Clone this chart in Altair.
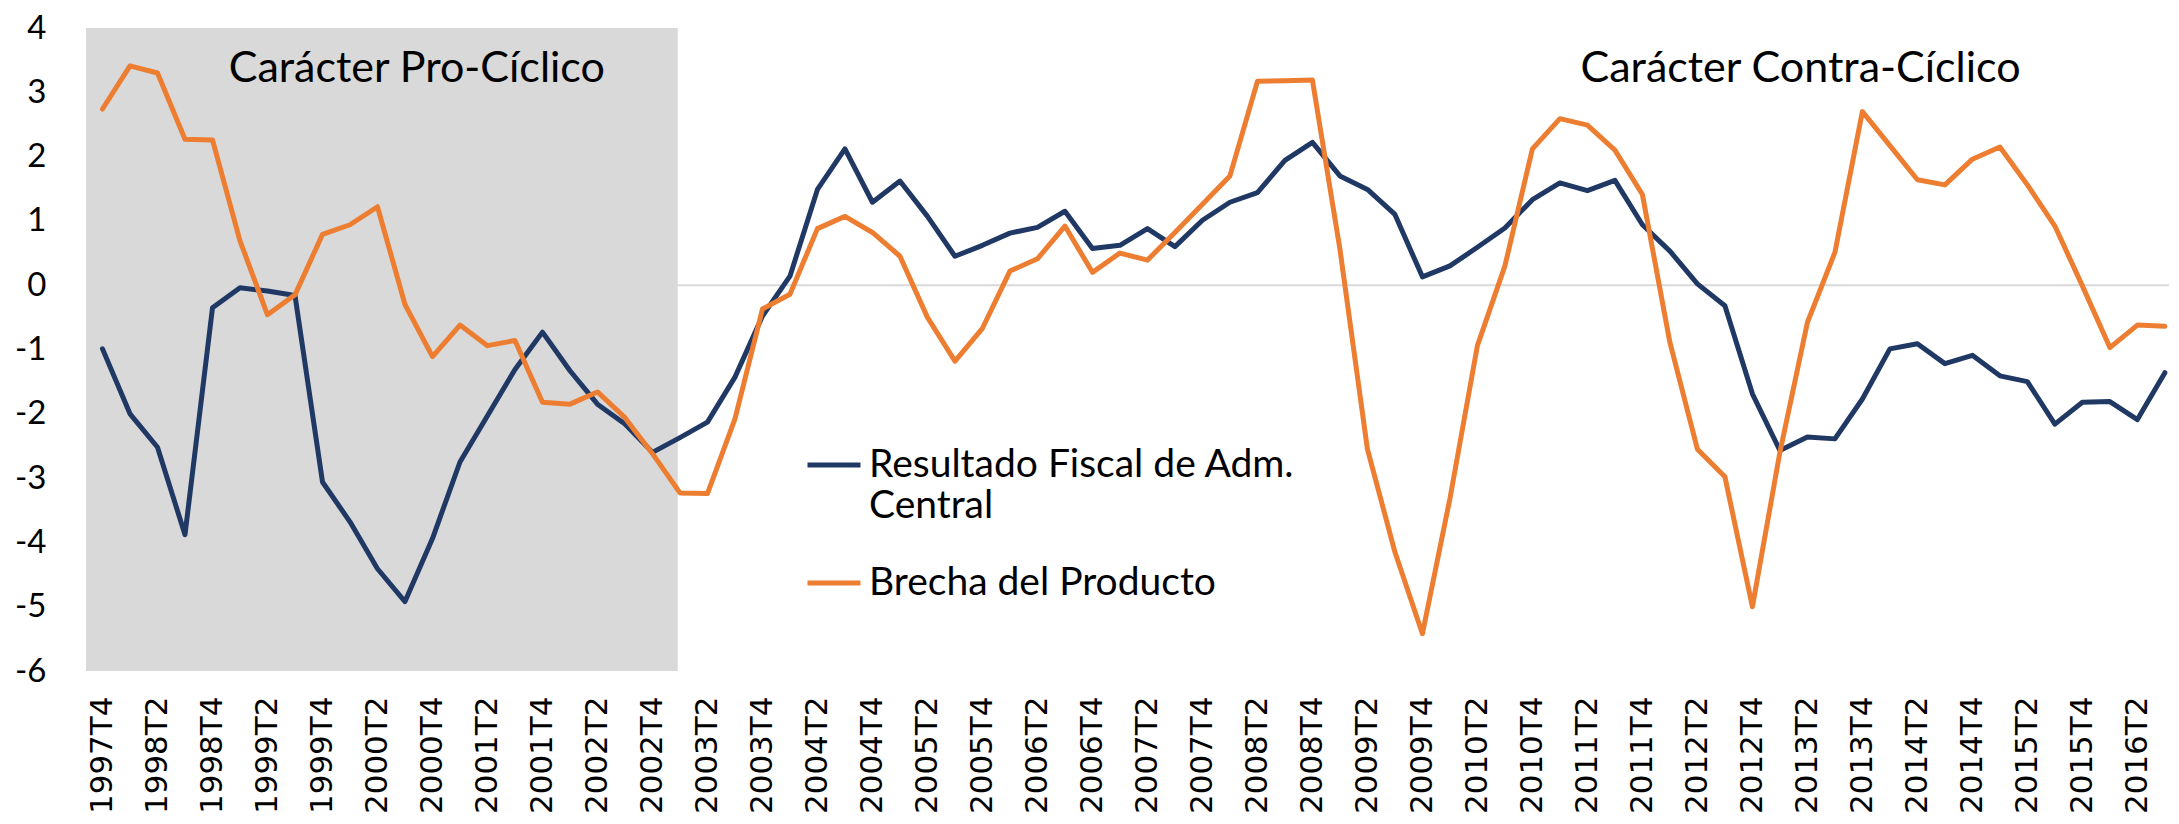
import altair as alt
import pandas as pd

quarters = [
    "1997T4",
    "1998T1", "1998T2", "1998T3", "1998T4",
    "1999T1", "1999T2", "1999T3", "1999T4",
    "2000T1", "2000T2", "2000T3", "2000T4",
    "2001T1", "2001T2", "2001T3", "2001T4",
    "2002T1", "2002T2", "2002T3", "2002T4",
    "2003T1", "2003T2", "2003T3", "2003T4",
    "2004T1", "2004T2", "2004T3", "2004T4",
    "2005T1", "2005T2", "2005T3", "2005T4",
    "2006T1", "2006T2", "2006T3", "2006T4",
    "2007T1", "2007T2", "2007T3", "2007T4",
    "2008T1", "2008T2", "2008T3", "2008T4",
    "2009T1", "2009T2", "2009T3", "2009T4",
    "2010T1", "2010T2", "2010T3", "2010T4",
    "2011T1", "2011T2", "2011T3", "2011T4",
    "2012T1", "2012T2", "2012T3", "2012T4",
    "2013T1", "2013T2", "2013T3", "2013T4",
    "2014T1", "2014T2", "2014T3", "2014T4",
    "2015T1", "2015T2", "2015T3", "2015T4",
    "2016T1", "2016T2", "2016T3",
]

resultado_fiscal = [
    -0.99,
    -2.00, -2.52, -3.88, -0.35,
    -0.04, -0.09, -0.16, -3.06,
    -3.68, -4.41, -4.92, -3.94,
    -2.75, -2.03, -1.31, -0.73,
    -1.33, -1.85, -2.16, -2.60,
    -2.37, -2.13, -1.43, -0.48,
    0.14, 1.49, 2.12, 1.29,
    1.62, 1.07, 0.45, 0.62,
    0.81, 0.90, 1.15, 0.57,
    0.62, 0.88, 0.60, 1.01,
    1.29, 1.44, 1.94, 2.22,
    1.70, 1.49, 1.10, 0.13,
    0.30, 0.59, 0.89, 1.33,
    1.59, 1.47, 1.63, 0.94,
    0.53, 0.02, -0.32, -1.69,
    -2.57, -2.36, -2.39, -1.77,
    -0.99, -0.91, -1.22, -1.09,
    -1.41, -1.50, -2.16, -1.82,
    -1.81, -2.09, -1.36,
]

brecha_producto = [
    2.74,
    3.41, 3.30, 2.27, 2.26,
    0.69, -0.46, -0.15, 0.79,
    0.94, 1.22, -0.30, -1.11,
    -0.62, -0.94, -0.86, -1.82,
    -1.85, -1.66, -2.06, -2.62,
    -3.23, -3.24, -2.08, -0.37,
    -0.14, 0.88, 1.07, 0.82,
    0.45, -0.50, -1.18, -0.67,
    0.22, 0.41, 0.92, 0.20,
    0.50, 0.39, 0.82, 1.26,
    1.70, 3.17, 3.18, 3.19,
    0.56, -2.55, -4.15, -5.42,
    -3.32, -0.94, 0.30, 2.12,
    2.59, 2.49, 2.10, 1.41,
    -0.89, -2.55, -2.98, -5.00,
    -2.60, -0.58, 0.51, 2.70,
    2.17, 1.64, 1.56, 1.96,
    2.15, 1.56, 0.92, -0.01,
    -0.97, -0.62, -0.64,
]

series_names = ["Resultado Fiscal de Adm. Central", "Brecha del Producto"]
series_colors = ["#203864", "#ED7D31"]

annotation_texts = ["Carácter Pro-Cíclico", "Carácter Contra-Cíclico"]

# pro-cyclical shaded period (in quarter index units)
shade_start, shade_end = -0.6, 20.92
annotation_x = [11.43, 61.75]
annotation_y = [3.37, 3.37]

rows = []
for name, vals in zip(series_names, [resultado_fiscal, brecha_producto]):
    for i, (q, v) in enumerate(zip(quarters, vals)):
        rows.append({"idx": i, "trimestre": q, "valor": v, "serie": name})
df = pd.DataFrame(rows)

label_list = "[" + ",".join("'" + q + "'" for q in quarters) + "]"
tick_vals = list(range(0, len(quarters), 2))

x_scale = alt.Scale(domain=[-0.6, 75.15], nice=False, zero=False)
y_scale = alt.Scale(domain=[-6, 4], nice=False)

x_axis = alt.Axis(
    values=tick_vals,
    labelExpr=label_list + "[datum.value]",
    labelAngle=-90,
    labelAlign="right",
    labelBaseline="middle",
    labelFont="DejaVu Sans",
    labelFontSize=31,
    labelColor="black",
    labelPadding=25,
    labelOverlap=False,
    labelFlush=False,
    domain=False,
    ticks=False,
    grid=False,
    title=None,
)
y_axis = alt.Axis(
    values=list(range(-6, 5)),
    labelExpr="'' + datum.value",
    labelFont="Lato",
    labelFontSize=33,
    labelColor="black",
    labelPadding=40,
    domain=False,
    ticks=False,
    grid=False,
    title=None,
)

shade = alt.Chart(pd.DataFrame({"x0": [shade_start], "x1": [shade_end], "y0": [-6], "y1": [4]})).mark_rect(
    color="#D9D9D9"
).encode(
    x=alt.X("x0:Q", scale=x_scale, axis=x_axis),
    x2="x1:Q",
    y=alt.Y("y0:Q", scale=y_scale, axis=y_axis),
    y2="y1:Q",
)

zero_rule = alt.Chart(pd.DataFrame({"y": [0]})).mark_rule(color="#D9D9D9", strokeWidth=2).encode(
    y=alt.Y("y:Q", scale=y_scale)
)

lines = alt.Chart(df).mark_line(strokeWidth=5, strokeJoin="round", strokeCap="round").encode(
    x=alt.X("idx:Q", scale=x_scale, axis=x_axis),
    y=alt.Y("valor:Q", scale=y_scale, axis=y_axis),
    color=alt.Color(
        "serie:N",
        scale=alt.Scale(domain=series_names, range=series_colors),
        legend=alt.Legend(
            orient="none",
            legendX=719,
            legendY=408,
            title=None,
            symbolType="stroke",
            symbolSize=2809,
            symbolStrokeWidth=5,
            labelFont="Lato",
            labelFontSize=39,
            labelColor="black",
            labelLimit=0,
            labelOffset=6,
            padding=0,
            rowPadding=28,
            labelExpr="datum.label == 'Resultado Fiscal de Adm. Central' ? ['Resultado Fiscal de Adm.', 'Central'] : datum.label",
        ),
    ),
    order="idx:Q",
)

annotations = alt.Chart(
    pd.DataFrame({"texto": annotation_texts, "x": annotation_x, "y": annotation_y})
).mark_text(font="Lato", fontSize=43, color="black", align="center", baseline="middle").encode(
    x=alt.X("x:Q", scale=x_scale),
    y=alt.Y("y:Q", scale=y_scale),
    text="texto:N",
)

chart = (
    alt.layer(shade, zero_rule, lines, annotations)
    .properties(
        width=2083,
        height=643,
        padding={"left": 78, "top": 20, "right": 0, "bottom": 143},
        autosize=alt.AutoSizeParams(type="none"),
        background="white",
    )
    .configure_view(stroke=None)
)

chart.save("out.html", embed_options={"renderer": "svg", "actions": False})
